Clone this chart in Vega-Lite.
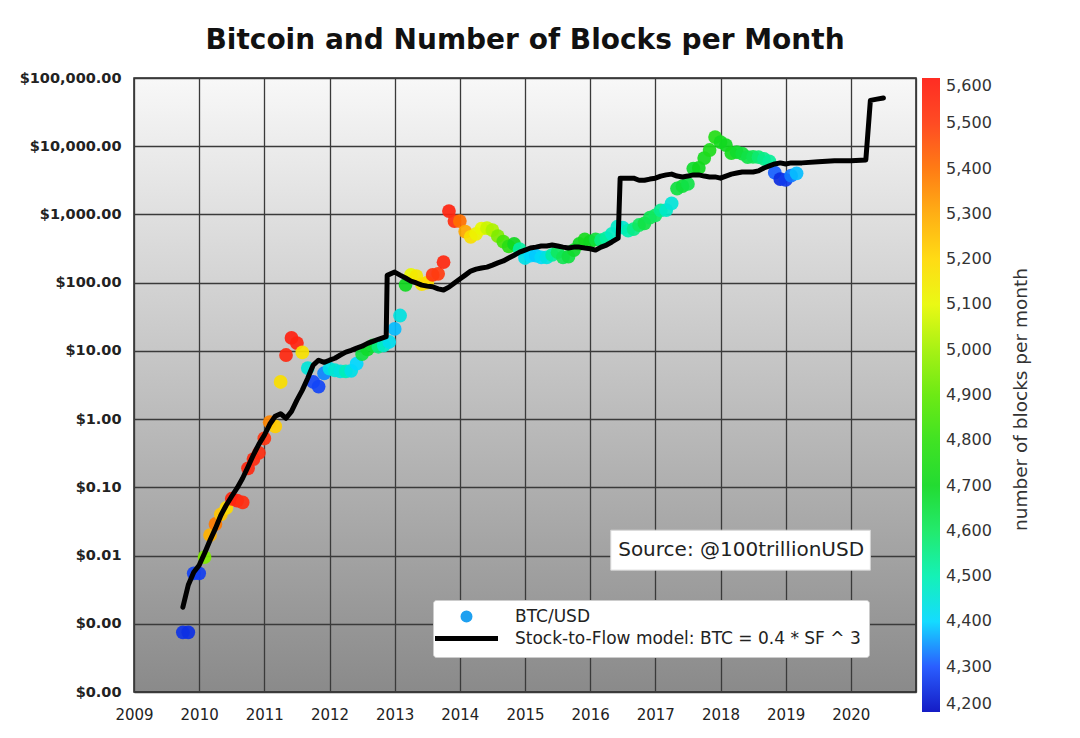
{
  "$schema": "https://vega.github.io/schema/vega-lite/v6.json",
  "width": 782,
  "height": 614,
  "autosize": {"type": "none"},
  "padding": {"left": 134, "top": 78, "right": 164, "bottom": 46},
  "background": "white",
  "title": {"text": "Bitcoin and Number of Blocks per Month", "font": "DejaVu Sans", "fontSize": 28, "fontWeight": "bold", "color": "#111", "anchor": "middle", "frame": "group", "baseline": "alphabetic", "offset": 28, "dy": 35},
  "datasets": {
    "btc": [
      {"t": 2009.75, "p": 0.00075, "b": 4260}, {"t": 2009.833, "p": 0.00075, "b": 4255},
      {"t": 2009.917, "p": 0.0055, "b": 4280}, {"t": 2010.0, "p": 0.0055, "b": 4275},
      {"t": 2010.083, "p": 0.0095, "b": 4950}, {"t": 2010.167, "p": 0.02, "b": 5280},
      {"t": 2010.25, "p": 0.029, "b": 5380}, {"t": 2010.333, "p": 0.04, "b": 5240},
      {"t": 2010.417, "p": 0.05, "b": 5190}, {"t": 2010.5, "p": 0.068, "b": 5560},
      {"t": 2010.583, "p": 0.064, "b": 5570}, {"t": 2010.667, "p": 0.06, "b": 5540},
      {"t": 2010.75, "p": 0.19, "b": 5560}, {"t": 2010.833, "p": 0.26, "b": 5550},
      {"t": 2010.917, "p": 0.32, "b": 5540}, {"t": 2011.0, "p": 0.52, "b": 5520},
      {"t": 2011.083, "p": 0.9, "b": 5360}, {"t": 2011.167, "p": 0.78, "b": 5220},
      {"t": 2011.25, "p": 3.5, "b": 5180}, {"t": 2011.333, "p": 8.7, "b": 5560},
      {"t": 2011.417, "p": 15.5, "b": 5580}, {"t": 2011.5, "p": 13, "b": 5570},
      {"t": 2011.583, "p": 9.5, "b": 5170}, {"t": 2011.667, "p": 5.6, "b": 4450},
      {"t": 2011.75, "p": 3.5, "b": 4290}, {"t": 2011.833, "p": 3.0, "b": 4285},
      {"t": 2011.917, "p": 4.7, "b": 4340}, {"t": 2012.0, "p": 5.5, "b": 4430},
      {"t": 2012.083, "p": 5.2, "b": 4460}, {"t": 2012.167, "p": 5.0, "b": 4440},
      {"t": 2012.25, "p": 5.0, "b": 4490}, {"t": 2012.333, "p": 5.1, "b": 4430},
      {"t": 2012.417, "p": 6.5, "b": 4400}, {"t": 2012.5, "p": 9.0, "b": 4650},
      {"t": 2012.583, "p": 10.5, "b": 4680}, {"t": 2012.667, "p": 12.0, "b": 4660},
      {"t": 2012.75, "p": 11.5, "b": 4560}, {"t": 2012.833, "p": 12.0, "b": 4470},
      {"t": 2012.917, "p": 13.5, "b": 4420}, {"t": 2013.0, "p": 21, "b": 4380},
      {"t": 2013.083, "p": 33, "b": 4440}, {"t": 2013.167, "p": 93, "b": 4700},
      {"t": 2013.25, "p": 130, "b": 5100}, {"t": 2013.333, "p": 125, "b": 5150},
      {"t": 2013.417, "p": 95, "b": 5170}, {"t": 2013.5, "p": 100, "b": 5190},
      {"t": 2013.583, "p": 130, "b": 5520}, {"t": 2013.667, "p": 135, "b": 5500},
      {"t": 2013.75, "p": 200, "b": 5560}, {"t": 2013.833, "p": 1120, "b": 5570},
      {"t": 2013.917, "p": 800, "b": 5540}, {"t": 2014.0, "p": 800, "b": 5400},
      {"t": 2014.083, "p": 560, "b": 5300}, {"t": 2014.167, "p": 470, "b": 5180},
      {"t": 2014.25, "p": 520, "b": 5120}, {"t": 2014.333, "p": 620, "b": 5100},
      {"t": 2014.417, "p": 630, "b": 5060}, {"t": 2014.5, "p": 590, "b": 5020},
      {"t": 2014.583, "p": 480, "b": 4950}, {"t": 2014.667, "p": 400, "b": 4850},
      {"t": 2014.75, "p": 340, "b": 4780}, {"t": 2014.833, "p": 370, "b": 4700},
      {"t": 2014.917, "p": 310, "b": 4520}, {"t": 2015.0, "p": 230, "b": 4430},
      {"t": 2015.083, "p": 250, "b": 4400}, {"t": 2015.167, "p": 250, "b": 4390},
      {"t": 2015.25, "p": 235, "b": 4410}, {"t": 2015.333, "p": 235, "b": 4440},
      {"t": 2015.417, "p": 255, "b": 4520}, {"t": 2015.5, "p": 280, "b": 4600},
      {"t": 2015.583, "p": 235, "b": 4620}, {"t": 2015.667, "p": 240, "b": 4650},
      {"t": 2015.75, "p": 300, "b": 4680}, {"t": 2015.833, "p": 370, "b": 4700},
      {"t": 2015.917, "p": 430, "b": 4720}, {"t": 2016.0, "p": 400, "b": 4700},
      {"t": 2016.083, "p": 430, "b": 4660}, {"t": 2016.167, "p": 420, "b": 4560},
      {"t": 2016.25, "p": 450, "b": 4520}, {"t": 2016.333, "p": 520, "b": 4480},
      {"t": 2016.417, "p": 660, "b": 4470}, {"t": 2016.5, "p": 640, "b": 4460},
      {"t": 2016.583, "p": 580, "b": 4500}, {"t": 2016.667, "p": 610, "b": 4550},
      {"t": 2016.75, "p": 700, "b": 4600}, {"t": 2016.833, "p": 740, "b": 4640},
      {"t": 2016.917, "p": 900, "b": 4620}, {"t": 2017.0, "p": 970, "b": 4600},
      {"t": 2017.083, "p": 1150, "b": 4540}, {"t": 2017.167, "p": 1160, "b": 4470},
      {"t": 2017.25, "p": 1450, "b": 4450}, {"t": 2017.333, "p": 2400, "b": 4650},
      {"t": 2017.417, "p": 2600, "b": 4660}, {"t": 2017.5, "p": 2800, "b": 4640},
      {"t": 2017.583, "p": 4700, "b": 4680}, {"t": 2017.667, "p": 4800, "b": 4700},
      {"t": 2017.75, "p": 6700, "b": 4720}, {"t": 2017.833, "p": 8800, "b": 4740},
      {"t": 2017.917, "p": 13600, "b": 4760}, {"t": 2018.0, "p": 11500, "b": 4720},
      {"t": 2018.083, "p": 10400, "b": 4700}, {"t": 2018.167, "p": 7900, "b": 4720},
      {"t": 2018.25, "p": 8200, "b": 4680}, {"t": 2018.333, "p": 7800, "b": 4660},
      {"t": 2018.417, "p": 6900, "b": 4640}, {"t": 2018.5, "p": 7000, "b": 4620},
      {"t": 2018.583, "p": 6900, "b": 4580}, {"t": 2018.667, "p": 6500, "b": 4550},
      {"t": 2018.75, "p": 6000, "b": 4530}, {"t": 2018.833, "p": 4100, "b": 4310},
      {"t": 2018.917, "p": 3300, "b": 4250}, {"t": 2019.0, "p": 3200, "b": 4270},
      {"t": 2019.083, "p": 3700, "b": 4330}, {"t": 2019.167, "p": 4000, "b": 4380}
    ],
    "s2f": [
      {"t": 2009.75, "s": 0.00175}, {"t": 2009.833, "s": 0.0037}, {"t": 2009.917, "s": 0.0057},
      {"t": 2010.0, "s": 0.0072}, {"t": 2010.083, "s": 0.0108}, {"t": 2010.167, "s": 0.0168},
      {"t": 2010.25, "s": 0.025}, {"t": 2010.333, "s": 0.039}, {"t": 2010.417, "s": 0.055},
      {"t": 2010.5, "s": 0.074}, {"t": 2010.583, "s": 0.098}, {"t": 2010.667, "s": 0.136},
      {"t": 2010.75, "s": 0.2}, {"t": 2010.833, "s": 0.3}, {"t": 2010.917, "s": 0.43},
      {"t": 2011.0, "s": 0.58}, {"t": 2011.083, "s": 0.84}, {"t": 2011.167, "s": 1.1},
      {"t": 2011.25, "s": 1.2}, {"t": 2011.333, "s": 1.03}, {"t": 2011.417, "s": 1.3},
      {"t": 2011.5, "s": 1.9}, {"t": 2011.583, "s": 2.66}, {"t": 2011.667, "s": 4.0},
      {"t": 2011.75, "s": 6.2}, {"t": 2011.833, "s": 7.3}, {"t": 2011.917, "s": 6.8},
      {"t": 2012.0, "s": 7.3}, {"t": 2012.083, "s": 7.8}, {"t": 2012.167, "s": 8.7},
      {"t": 2012.25, "s": 9.6}, {"t": 2012.333, "s": 10.2}, {"t": 2012.417, "s": 11},
      {"t": 2012.5, "s": 11.7}, {"t": 2012.583, "s": 12.9}, {"t": 2012.667, "s": 13.8},
      {"t": 2012.75, "s": 14.8}, {"t": 2012.87, "s": 16.2}, {"t": 2012.885, "s": 128},
      {"t": 2013.0, "s": 143}, {"t": 2013.083, "s": 129}, {"t": 2013.167, "s": 117},
      {"t": 2013.25, "s": 105}, {"t": 2013.333, "s": 99}, {"t": 2013.417, "s": 92},
      {"t": 2013.5, "s": 89}, {"t": 2013.583, "s": 87}, {"t": 2013.667, "s": 81},
      {"t": 2013.75, "s": 78}, {"t": 2013.833, "s": 86}, {"t": 2013.917, "s": 99},
      {"t": 2014.0, "s": 113}, {"t": 2014.083, "s": 129}, {"t": 2014.167, "s": 148},
      {"t": 2014.25, "s": 158}, {"t": 2014.333, "s": 164}, {"t": 2014.417, "s": 169},
      {"t": 2014.5, "s": 181}, {"t": 2014.583, "s": 195}, {"t": 2014.667, "s": 208},
      {"t": 2014.75, "s": 230}, {"t": 2014.833, "s": 253}, {"t": 2014.917, "s": 280},
      {"t": 2015.0, "s": 300}, {"t": 2015.083, "s": 322}, {"t": 2015.167, "s": 332},
      {"t": 2015.25, "s": 345}, {"t": 2015.333, "s": 345}, {"t": 2015.417, "s": 356},
      {"t": 2015.5, "s": 345}, {"t": 2015.583, "s": 332}, {"t": 2015.667, "s": 322},
      {"t": 2015.75, "s": 332}, {"t": 2015.833, "s": 332}, {"t": 2015.917, "s": 322},
      {"t": 2016.0, "s": 314}, {"t": 2016.083, "s": 300}, {"t": 2016.167, "s": 332},
      {"t": 2016.25, "s": 356}, {"t": 2016.333, "s": 395}, {"t": 2016.43, "s": 450},
      {"t": 2016.46, "s": 3400}, {"t": 2016.583, "s": 3400}, {"t": 2016.667, "s": 3400},
      {"t": 2016.75, "s": 3170}, {"t": 2016.833, "s": 3170}, {"t": 2016.917, "s": 3300},
      {"t": 2017.0, "s": 3400}, {"t": 2017.083, "s": 3650}, {"t": 2017.167, "s": 3800},
      {"t": 2017.25, "s": 3900}, {"t": 2017.333, "s": 3650}, {"t": 2017.417, "s": 3550},
      {"t": 2017.5, "s": 3650}, {"t": 2017.583, "s": 3800}, {"t": 2017.667, "s": 3800},
      {"t": 2017.75, "s": 3650}, {"t": 2017.833, "s": 3550}, {"t": 2017.917, "s": 3550},
      {"t": 2018.0, "s": 3400}, {"t": 2018.083, "s": 3650}, {"t": 2018.167, "s": 3900},
      {"t": 2018.25, "s": 4050}, {"t": 2018.333, "s": 4200}, {"t": 2018.417, "s": 4200},
      {"t": 2018.5, "s": 4200}, {"t": 2018.583, "s": 4350}, {"t": 2018.667, "s": 4800},
      {"t": 2018.75, "s": 5150}, {"t": 2018.833, "s": 5500}, {"t": 2018.917, "s": 5700},
      {"t": 2019.0, "s": 5500}, {"t": 2019.083, "s": 5700}, {"t": 2019.25, "s": 5700},
      {"t": 2019.5, "s": 5900}, {"t": 2019.75, "s": 6100}, {"t": 2020.0, "s": 6100},
      {"t": 2020.23, "s": 6300}, {"t": 2020.3, "s": 47000}, {"t": 2020.4, "s": 49000},
      {"t": 2020.5, "s": 51000}
    ]
  },
  "encoding": {
    "x": {
      "type": "quantitative",
      "scale": {"domain": [2009, 2021], "nice": false, "zero": false},
      "axis": {"title": null, "grid": true, "gridColor": "#3a3a3a", "gridWidth": 1.3, "gridOpacity": 1, "values": [2009, 2010, 2011, 2012, 2013, 2014, 2015, 2016, 2017, 2018, 2019, 2020, 2021], "labelExpr": "datum.value == 2021 ? '' : format(datum.value, 'd')", "labelPadding": 15, "labelFontSize": 15, "labelColor": "#222", "labelFont": "DejaVu Sans", "labelFlush": false}
    }
  },
  "layer": [
    {
      "data": {"values": [{"label": "Source: @100trillionUSD"}]},
      "mark": {"type": "rect", "fill": "white", "stroke": "#d4d4d4", "strokeWidth": 1},
      "encoding": {
        "x": {"datum": 2016.316, "type": "quantitative"},
        "x2": {"datum": 2020.3},
        "y": {"datum": 0.02355, "type": "quantitative", "axis": null},
        "y2": {"datum": 0.00611}
      }
    },
    {
      "data": {"values": [{"label": "Source: @100trillionUSD"}]},
      "mark": {"type": "text", "align": "left", "baseline": "middle", "font": "DejaVu Sans", "fontSize": 20, "color": "#222"},
      "encoding": {
        "x": {"datum": 2016.43, "type": "quantitative"},
        "y": {"datum": 0.0121, "type": "quantitative", "axis": null},
        "text": {"field": "label", "type": "nominal"}
      }
    },
    {
      "data": {"name": "btc"},
      "mark": {"type": "point", "filled": true, "size": 190, "opacity": 0.92, "strokeWidth": 0},
      "encoding": {
        "x": {"field": "t", "type": "quantitative"},
        "y": {
          "field": "p", "type": "quantitative",
          "scale": {"type": "log", "domain": [0.0001, 100000], "nice": false},
          "axis": {"title": null, "orient": "left", "grid": true, "gridColor": "#3a3a3a", "gridWidth": 1.3, "gridOpacity": 1, "values": [0.0001, 0.001, 0.01, 0.1, 1, 10, 100, 1000, 10000, 100000], "labelExpr": "'$' + format(datum.value, ',.2f')", "labelPadding": 13, "labelFontSize": 14.5, "labelFontWeight": "bold", "labelColor": "#222", "labelFont": "DejaVu Sans", "labelFlush": false}
        },
        "color": {
          "field": "b", "type": "quantitative",
          "scale": {
            "domain": [4200, 4300, 4400, 4500, 4600, 4700, 4800, 4900, 5000, 5100, 5200, 5300, 5400, 5500, 5600],
            "range": ["#0008c0", "#1850ff", "#00d8ff", "#00f0b0", "#10e860", "#10d820", "#30e010", "#60e800", "#a0f000", "#e8f800", "#ffd800", "#ffa800", "#ff7000", "#ff3c10", "#ff1a10"],
            "interpolate": "rgb"
          },
          "legend": {
            "title": null, "orient": "none", "legendX": 788, "legendY": 0, "direction": "vertical",
            "gradientLength": 634, "gradientThickness": 18, "gradientStrokeWidth": 0,
            "values": [4200, 4300, 4400, 4500, 4600, 4700, 4800, 4900, 5000, 5100, 5200, 5300, 5400, 5500, 5600],
            "format": ",d", "labelFontSize": 16, "labelColor": "#333", "labelFont": "DejaVu Sans", "labelOffset": 6, "padding": 0, "labelOverlap": false
          }
        },
        "shape": {
          "datum": "BTC/USD",
          "scale": {"domain": ["BTC/USD", "Stock-to-Flow model: BTC = 0.4 * SF ^ 3"], "range": ["circle", "M-9,0H9"]},
          "legend": {
            "title": null, "orient": "none", "legendX": 299, "legendY": 522, "direction": "vertical",
            "fillColor": "white", "strokeColor": "#cccccc", "padding": 8, "cornerRadius": 3,
            "labelFontSize": 17, "labelFont": "DejaVu Sans", "labelColor": "#222", "labelOffset": 40, "labelLimit": 0,
            "symbolSize": 49, "symbolOffset": 17, "rowPadding": -2,
            "symbolFillColor": "#1ea0f0", "symbolStrokeWidth": 5, "symbolOpacity": 1
          }
        },
        "stroke": {
          "datum": "BTC/USD",
          "scale": {"domain": ["BTC/USD", "Stock-to-Flow model: BTC = 0.4 * SF ^ 3"], "range": ["#1ea0f0", "#000000"]},
          "legend": {
            "title": null, "orient": "none", "legendX": 299, "legendY": 522, "direction": "vertical",
            "fillColor": "white", "strokeColor": "#cccccc", "padding": 8, "cornerRadius": 3,
            "labelFontSize": 17, "labelFont": "DejaVu Sans", "labelColor": "#222", "labelOffset": 40, "labelLimit": 0,
            "symbolSize": 49, "symbolOffset": 17, "rowPadding": -2,
            "symbolFillColor": "#1ea0f0", "symbolStrokeWidth": 5, "symbolOpacity": 1
          }
        }
      }
    },
    {
      "data": {"name": "s2f"},
      "mark": {"type": "line", "color": "#000000", "strokeWidth": 5, "strokeCap": "round", "strokeJoin": "round"},
      "encoding": {
        "x": {"field": "t", "type": "quantitative"},
        "y": {
          "field": "s", "type": "quantitative",
          "axis": {"orient": "right", "title": "number of blocks per month", "labels": false, "ticks": false, "domain": false, "grid": false, "titleAngle": 270, "titlePadding": 104, "titleBaseline": "middle", "titleFontSize": 18.5, "titleFontWeight": "normal", "titleColor": "#333", "titleFont": "DejaVu Sans", "titleY": 321}
        }
      }
    }
  ],
  "resolve": {"axis": {"y": "independent"}},
  "config": {
    "view": {
      "fill": {"gradient": "linear", "x1": 0, "y1": 0, "x2": 0, "y2": 1, "stops": [{"offset": 0, "color": "#f8f8f8"}, {"offset": 1, "color": "#8a8a8a"}]},
      "stroke": "#222222", "strokeWidth": 1.5
    },
    "axis": {"domain": false, "ticks": false}
  }
}
